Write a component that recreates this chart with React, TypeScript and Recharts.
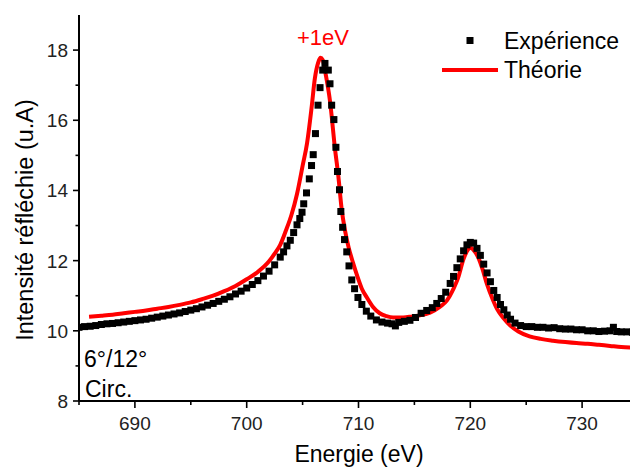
import React from 'react';
import { ComposedChart, Line, Scatter, XAxis, YAxis } from 'recharts';

const expEnergy = [
  685.0, 685.5, 686.0, 686.5, 687.0, 687.5, 688.0, 688.5, 689.0, 689.5,
  690.0, 690.5, 691.0, 691.5, 692.0, 692.5, 693.0, 693.5, 694.0, 694.5,
  695.0, 695.5, 696.0, 696.5, 697.0, 697.5, 698.0, 698.5, 699.0, 699.5,
  700.0, 700.5, 701.0, 701.5, 702.0, 702.5, 703.0, 703.3, 703.6, 703.9,
  704.2, 704.5, 704.75, 704.95, 705.1, 705.35, 705.6, 705.8, 705.95, 706.15,
  706.38, 706.56, 706.8, 707.0, 707.3, 707.45, 707.6, 707.8, 707.98, 708.12,
  708.3, 708.42, 708.58, 708.75, 708.95, 709.15, 709.4, 709.65, 709.95, 710.3,
  710.7, 711.1, 711.6, 712.1, 712.6, 713.0, 713.3, 713.6, 714.1, 714.6,
  715.1, 715.6, 716.1, 716.6, 717.0, 717.4, 717.8, 718.2, 718.5, 718.8,
  719.1, 719.4, 719.7, 720.0, 720.3, 720.6, 720.9, 721.2, 721.5, 721.8,
  722.1, 722.4, 722.7, 723.0, 723.3, 723.6, 724.0, 724.5, 725.0, 725.5,
  726.0, 726.5, 727.0, 727.5, 728.0, 728.5, 729.0, 729.5, 730.0, 730.5,
  731.0, 731.5, 732.0, 732.5, 732.8, 733.1, 733.5, 734.0, 734.5,
];
const expIntensity = [
  10.10, 10.12, 10.13, 10.15, 10.18, 10.20, 10.21, 10.23, 10.25, 10.27,
  10.29, 10.31, 10.33, 10.36, 10.39, 10.42, 10.45, 10.48, 10.51, 10.55,
  10.59, 10.63, 10.68, 10.73, 10.78, 10.84, 10.90, 10.97, 11.05, 11.13,
  11.22, 11.32, 11.43, 11.56, 11.70, 11.88, 12.10, 12.25, 12.42, 12.58,
  12.80, 13.02, 13.20, 13.38, 13.62, 13.93, 14.33, 14.71, 15.02, 15.62,
  16.43, 16.93, 17.43, 17.62, 17.43, 17.04, 16.43, 16.02, 15.23, 14.54,
  14.02, 13.40, 12.95, 12.60, 12.25, 11.85, 11.45, 11.20, 10.95, 10.75,
  10.56, 10.42, 10.31, 10.25, 10.22, 10.20, 10.14, 10.24, 10.27, 10.30,
  10.38, 10.50, 10.58, 10.66, 10.78, 10.92, 11.10, 11.35, 11.55, 11.80,
  12.05, 12.28, 12.45, 12.52, 12.50, 12.35, 12.15, 11.90, 11.65, 11.40,
  11.15, 10.95, 10.75, 10.60, 10.45, 10.33, 10.22, 10.15, 10.12, 10.12,
  10.10, 10.10, 10.08, 10.09, 10.06, 10.05, 10.05, 10.03, 10.03, 10.00,
  10.00, 9.98, 9.99, 10.00, 10.10, 9.98, 9.97, 9.97, 9.96,
];

const theoEnergy = [
  685.9, 687, 688, 689, 690, 691, 692, 693, 694, 695,
  696, 697, 698, 699, 700, 701, 702, 702.5, 703, 703.5,
  704, 704.5, 705, 705.4, 705.8, 706.1, 706.4, 706.6, 706.8, 707.1,
  707.45, 707.9, 708.2, 708.5, 708.8, 709.1, 709.5, 709.9, 710.3, 710.75,
  711.3, 711.9, 712.5, 713.1, 714, 714.8, 715.5, 716.4, 717.3, 717.9,
  718.5, 718.9, 719.4, 719.8, 720.05, 720.3, 720.7, 721.1, 721.5, 722.0,
  722.4, 723, 723.6, 724.3, 725.3, 726.3, 727.4, 728.5, 729.5, 730.5,
  731.5, 732.5, 733.5, 734.5,
];
const theoIntensity = [
  10.40, 10.43, 10.46, 10.50, 10.54, 10.58, 10.63, 10.68, 10.74, 10.81,
  10.90, 11.00, 11.13, 11.28, 11.47, 11.68, 11.98, 12.20, 12.45, 12.85,
  13.30, 13.90, 14.70, 15.35, 16.35, 17.20, 17.65, 17.78, 17.72, 17.25,
  16.55, 15.18, 14.40, 13.45, 12.85, 12.40, 11.95, 11.55, 11.20, 10.95,
  10.68, 10.50, 10.42, 10.38, 10.38, 10.41, 10.44, 10.52, 10.69, 10.86,
  11.20, 11.50, 12.05, 12.32, 12.37, 12.30, 12.10, 11.75, 11.32, 10.90,
  10.62, 10.35, 10.14, 9.98, 9.84, 9.77, 9.72, 9.68, 9.65, 9.63,
  9.60, 9.57, 9.54, 9.52,
];

const xTicks = [685, 690, 695, 700, 705, 710, 715, 720, 725, 730, 735];
const xMajorTicks = [690, 700, 710, 720, 730];
const yTicks = [8, 9, 10, 11, 12, 13, 14, 15, 16, 17, 18];
const yMajorTicks = [8, 10, 12, 14, 16, 18];

const seriesNames = ['Expérience', 'Théorie'];
const annotationShift = '+1eV';
const annotationConditions = ['6°/12°', 'Circ.'];
const xTitle = 'Energie (eV)';
const yTitle = 'Intensité réfléchie (u.A)';

const expData = expEnergy.map((e, i) => ({ e, v: expIntensity[i] }));
const theoData = theoEnergy.map((e, i) => ({ e, v: theoIntensity[i] }));

const FONT = '"Liberation Sans", Arial, sans-serif';

const BottomTick = (props: any) => {
  const { x, y, payload } = props;
  const major = xMajorTicks.includes(payload.value);
  return (
    <g>
      <line x1={x} y1={y} x2={x} y2={y + (major ? 7 : 4)} stroke="#000" strokeWidth={1.6} />
      {major && (
        <text x={x} y={y + 29} textAnchor="middle" fontSize={19} fontFamily={FONT} fill="#222">
          {payload.value}
        </text>
      )}
    </g>
  );
};

const TopTick = (props: any) => {
  const { x, y } = props;
  return <line x1={x} y1={y} x2={x} y2={y + 6} stroke="#000" strokeWidth={1.6} />;
};

const LeftTick = (props: any) => {
  const { x, y, payload } = props;
  const major = yMajorTicks.includes(payload.value);
  return (
    <g>
      <line x1={x - (major ? 6 : 3.5)} y1={y} x2={x} y2={y} stroke="#000" strokeWidth={1.6} />
      {major && (
        <text x={x - 11} y={y + 7} textAnchor="end" fontSize={19} fontFamily={FONT} fill="#222">
          {payload.value}
        </text>
      )}
    </g>
  );
};

const Square = (props: any) => {
  const { cx, cy } = props;
  if (cx == null || cy == null) return <g />;
  return <rect x={cx - 3.5} y={cy - 3.5} width={7} height={7} fill="#000" />;
};

export default function App() {
  return (
    <div style={{ position: 'absolute', left: 0, top: 0, width: 630, height: 468, overflow: 'hidden', background: '#fff' }}>
      <ComposedChart width={660} height={468} margin={{ top: 15, right: 22, bottom: 0, left: 0 }}>
        <XAxis
          xAxisId="bottom"
          dataKey="e"
          type="number"
          domain={[685, 735]}
          allowDataOverflow
          ticks={xTicks}
          interval={0}
          height={67}
          tickSize={0}
          tickMargin={0}
          tick={<BottomTick />}
          tickLine={false}
          axisLine={{ stroke: '#000', strokeWidth: 2 }}
        />
        <XAxis
          xAxisId="top"
          orientation="top"
          dataKey="e"
          type="number"
          domain={[685, 735]}
          allowDataOverflow
          ticks={xTicks}
          interval={0}
          height={0}
          tickSize={0}
          tickMargin={0}
          tick={<TopTick />}
          tickLine={false}
          axisLine={{ stroke: '#000', strokeWidth: 2 }}
        />
        <YAxis
          yAxisId="left"
          type="number"
          domain={[8, 19]}
          allowDataOverflow
          ticks={yTicks}
          interval={0}
          width={79}
          tickSize={0}
          tickMargin={0}
          tick={<LeftTick />}
          tickLine={false}
          axisLine={{ stroke: '#000', strokeWidth: 2 }}
        />
        <Scatter
          name={seriesNames[0]}
          data={expData}
          dataKey="v"
          xAxisId="bottom"
          yAxisId="left"
          shape={<Square />}
          isAnimationActive={false}
        />
        <Line
          name={seriesNames[1]}
          data={theoData}
          dataKey="v"
          xAxisId="bottom"
          yAxisId="left"
          type="monotone"
          stroke="#ff0000"
          strokeWidth={4}
          dot={false}
          isAnimationActive={false}
        />
      </ComposedChart>
      <svg width={630} height={468} style={{ position: 'absolute', left: 0, top: 0, pointerEvents: 'none' }}>
        <g fontFamily={FONT}>
          <rect x={466.5} y={37} width={7} height={7} fill="#000" />
          <text x={504} y={49} fontSize={23} fill="#000">{seriesNames[0]}</text>
          <line x1={442} y1={70} x2={498} y2={70} stroke="#ff0000" strokeWidth={4} />
          <text x={504} y={78} fontSize={23} fill="#000">{seriesNames[1]}</text>
          <text x={297} y={45} fontSize={22} fill="#ff0000">{annotationShift}</text>
          <text x={84} y={367} fontSize={23} fill="#000">{annotationConditions[0]}</text>
          <text x={85} y={397} fontSize={23} fill="#000">{annotationConditions[1]}</text>
          <text x={359} y={462} fontSize={23} textAnchor="middle" fill="#000">{xTitle}</text>
          <text x={33} y={220} fontSize={23.5} textAnchor="middle" fill="#000" transform="rotate(-90 33 220)">{yTitle}</text>
        </g>
      </svg>
    </div>
  );
}
